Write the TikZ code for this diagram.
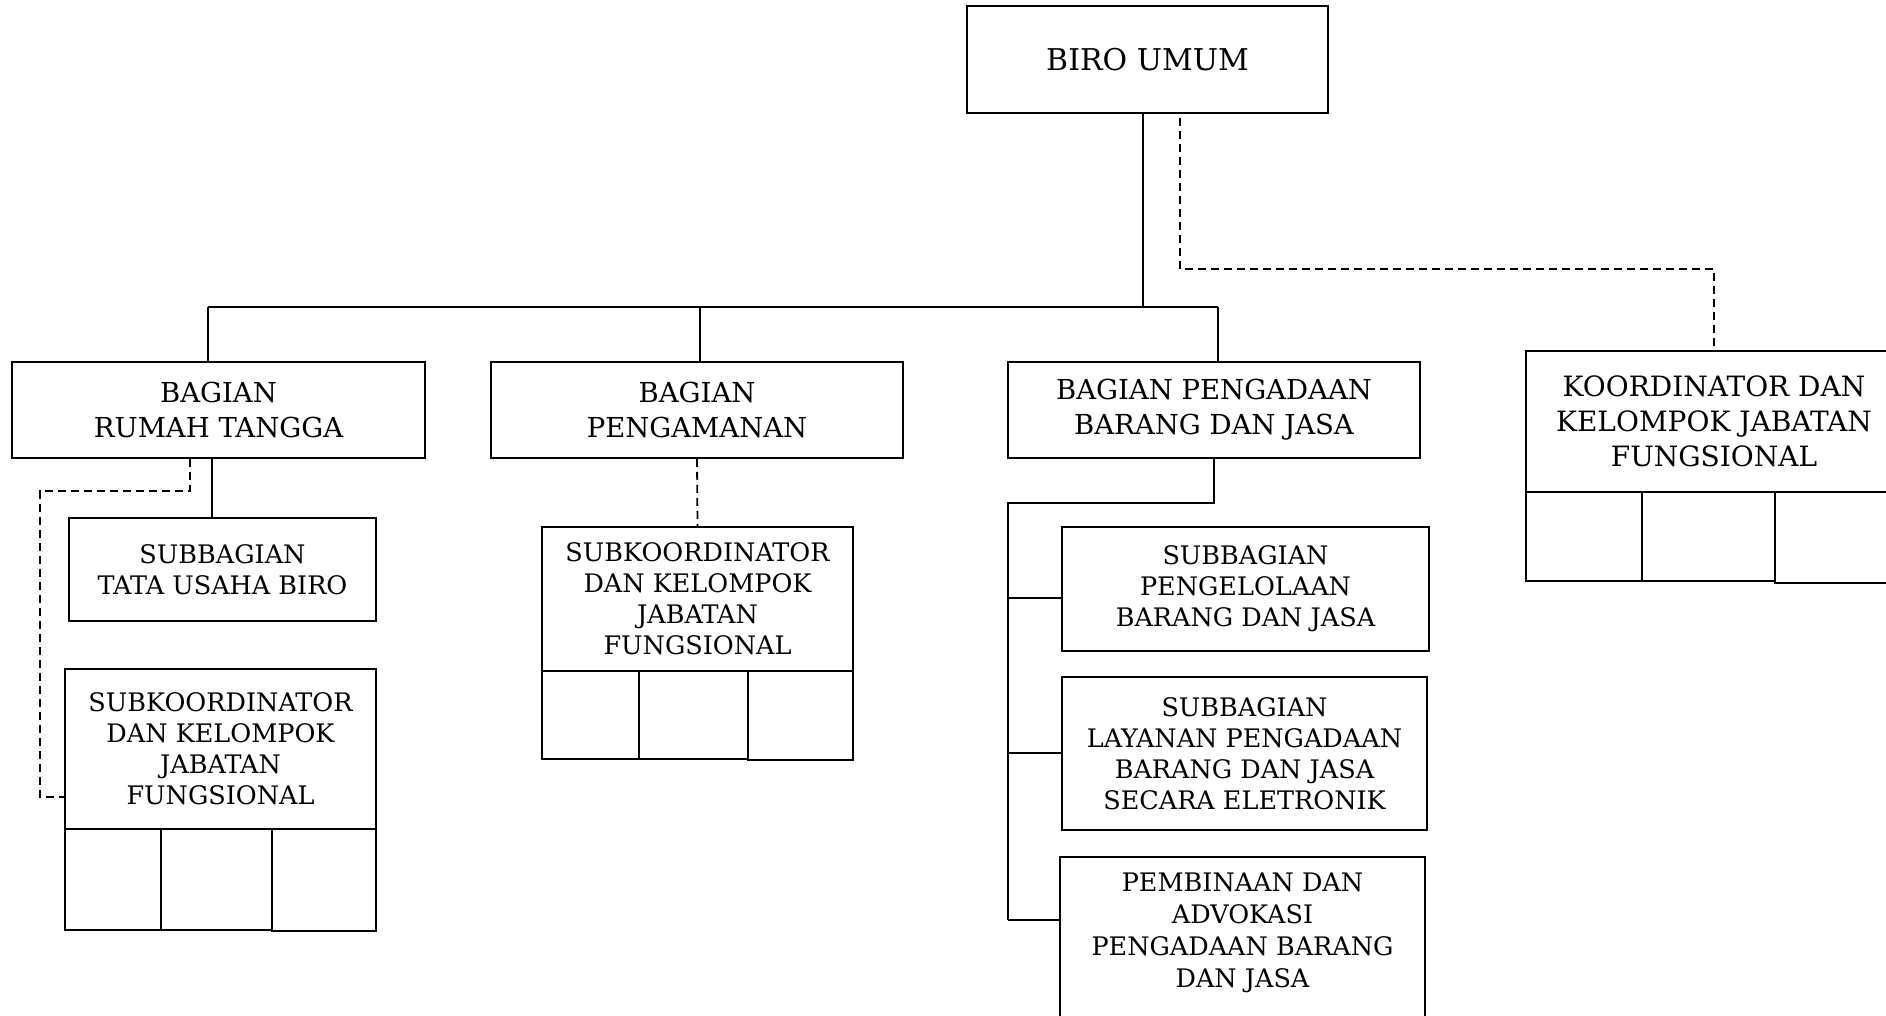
\documentclass[tikz,border=0pt]{standalone}
\usepackage{fontspec}
\setmainfont{DejaVu Serif}
\begin{document}
\begin{tikzpicture}[x=1pt,y=-1pt,
  box/.style={draw, line width=1.8pt, inner sep=0pt, align=center},
  big/.style={box, font=\fontsize{27.5}{35}\selectfont},
  small/.style={box, font=\fontsize{25.5}{31}\selectfont},
  cell/.style={draw, line width=1.8pt, inner sep=0pt},
  conn/.style={line width=1.8pt},
  dashline/.style={line width=1.8pt, dash pattern=on 8pt off 5pt}]
\useasboundingbox (0,0) rectangle (1886,1015);
% top
\node[box, font=\fontsize{30}{35}\selectfont, minimum width=361pt, minimum height=107pt] (biro) at (1147.5,59.5) {BIRO UMUM};
% level 2
\node[big, minimum width=413pt, minimum height=96pt] (rt) at (218.5,410) {BAGIAN\\RUMAH TANGGA};
\node[big, minimum width=412pt, minimum height=96pt] (pg) at (697,410) {BAGIAN\\PENGAMANAN};
\node[big, minimum width=412pt, minimum height=96pt] (pd) at (1214,410) {BAGIAN PENGADAAN\\BARANG DAN JASA};
% koordinator
\node[big, font=\fontsize{28}{35}\selectfont, minimum width=376pt, minimum height=141pt] (koord) at (1714,421.5) {KOORDINATOR DAN\\KELOMPOK JABATAN\\FUNGSIONAL};
\node[cell, minimum width=116pt, minimum height=89pt] (kc1) at (1584,536.5) {};
\node[cell, minimum width=133pt, minimum height=89pt] (kc2) at (1708.5,536.5) {};
\node[cell, minimum width=127pt, minimum height=91pt] (kc3) at (1838.5,537.5) {};
% rumah tangga children
\node[small, minimum width=307pt, minimum height=103pt] (tu) at (222.5,569.5) {SUBBAGIAN\\TATA USAHA BIRO};
\node[small, minimum width=311pt, minimum height=160pt] (sk1) at (220.5,749) {SUBKOORDINATOR\\DAN KELOMPOK\\JABATAN\\FUNGSIONAL};
\node[cell, minimum width=96pt, minimum height=101pt] (s1c1) at (113,879.5) {};
\node[cell, minimum width=111pt, minimum height=101pt] (s1c2) at (216.5,879.5) {};
\node[cell, minimum width=104pt, minimum height=102pt] (s1c3) at (324,880) {};
% pengamanan child
\node[small, minimum width=311pt, minimum height=144pt] (sk2) at (697.5,599) {SUBKOORDINATOR\\DAN KELOMPOK\\JABATAN\\FUNGSIONAL};
\node[cell, minimum width=97pt, minimum height=88pt] (s2c1) at (590.5,715) {};
\node[cell, minimum width=109pt, minimum height=88pt] (s2c2) at (693.5,715) {};
\node[cell, minimum width=105pt, minimum height=89pt] (s2c3) at (800.5,715.5) {};
% pengadaan children
\node[small, minimum width=367pt, minimum height=124pt] (pbj) at (1245.5,589) {SUBBAGIAN\\PENGELOLAAN\\BARANG DAN JASA};
\node[small, minimum width=365pt, minimum height=153pt] (lyn) at (1244.5,753.5) {SUBBAGIAN\\LAYANAN PENGADAAN\\BARANG DAN JASA\\SECARA ELETRONIK};
\node[small, font=\fontsize{25.5}{32}\selectfont, anchor=north, minimum width=365pt, inner ysep=16pt, text depth=110pt] (pemb) at (1242.5,856) {PEMBINAAN DAN\\ADVOKASI\\PENGADAAN BARANG\\DAN JASA};
% bus from BIRO UMUM
\coordinate (bus) at (1143,307);
\coordinate (b1) at (208,307);
\coordinate (b2) at (700,307);
\coordinate (b3) at (1218,307);
\draw[conn] (bus |- biro.south) -- (bus);
\draw[conn] (b1) -- (b3);
\draw[conn] (b1) -- (b1 |- rt.north);
\draw[conn] (b2) -- (b2 |- pg.north);
\draw[conn] (b3) -- (b3 |- pd.north);
% dashed to koordinator
\coordinate (d1) at (1180,269);
\draw[dashline] ([yshift=-4pt]d1 |- biro.south) -- (d1) -| (koord.north);
% rumah tangga links
\coordinate (t1) at (212,458);
\draw[conn] (t1) -- (t1 |- tu.north);
\coordinate (r1) at (190,491);
\coordinate (r2) at (40,797);
\draw[dashline] (r1 |- rt.south) -- (r1) -| (r2) -- (r2 -| sk1.west);
% pengamanan link
\draw[dashline] (pg.south) -- (sk2.north);
% pengadaan links
\coordinate (p1) at (1214,503);
\coordinate (p2) at (1008,503);
\coordinate (q1) at (1008,598);
\coordinate (q2) at (1008,753);
\coordinate (q3) at (1008,920);
\draw[conn] (p1 |- pd.south) -- (p1) -- (p2) -- (q3);
\draw[conn] (q1) -- (q1 -| pbj.west);
\draw[conn] (q2) -- (q2 -| lyn.west);
\draw[conn] (q3) -- (q3 -| pemb.west);
\end{tikzpicture}
\end{document}
